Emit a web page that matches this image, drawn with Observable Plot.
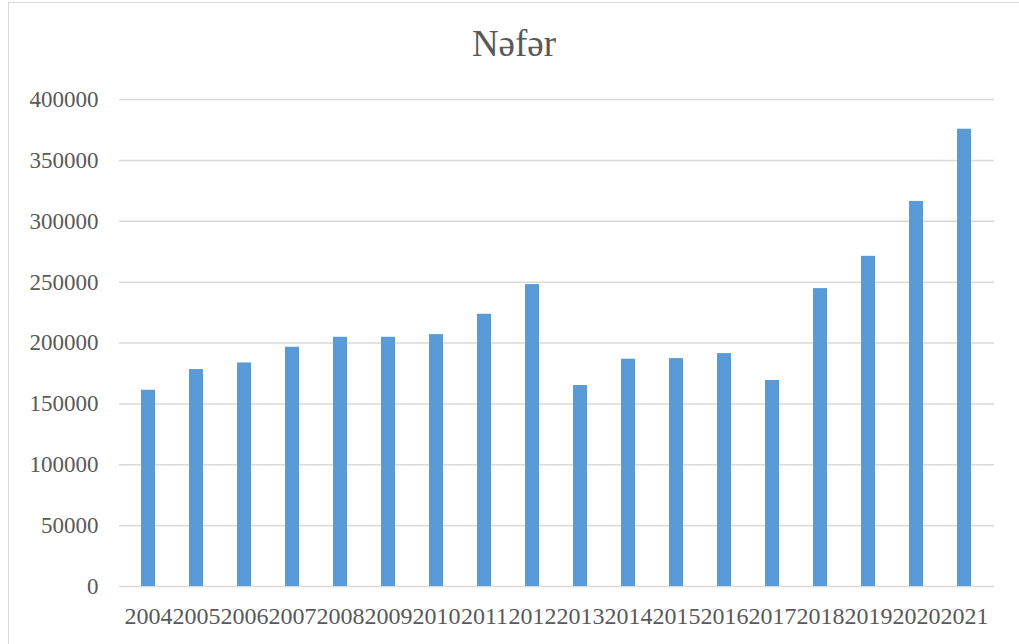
<!DOCTYPE html>
<html>
<head>
<meta charset="utf-8">
<script src="https://cdn.jsdelivr.net/npm/d3@7"></script>
<script src="https://cdn.jsdelivr.net/npm/@observablehq/plot@0.6"></script>
<style>
  html, body { margin: 0; padding: 0; background: #fff; overflow: hidden; width: 1019px; height: 644px; }
  #frame { position: absolute; left: 8px; top: 2px; width: 1100px; height: 700px; border: 1.5px solid #d9d9d9; box-sizing: border-box; }
  #title { position: absolute; left: 0; top: 4px; width: 1028px; height: 80px; text-align: center;
           font-family: "Liberation Serif", "DejaVu Serif", serif; font-size: 37px; color: #595959;
           line-height: 80px; }
  #chart { position: absolute; left: 0; top: 80px; }
</style>
</head>
<body>
<div id="frame"></div>
<div id="title">Nəfər</div>
<div id="chart"></div>
<script>
const years = ["2004","2005","2006","2007","2008","2009","2010","2011","2012","2013","2014","2015","2016","2017","2018","2019","2020","2021"];
const values = [161200,178200,183600,196500,204700,204700,206900,223600,248000,165100,186700,187200,191300,169200,244700,271200,316300,375600];
const yTicks = [0,50000,100000,150000,200000,250000,300000,350000,400000];

const data = years.map((y, i) => ({year: y, value: values[i]}));

const chart = Plot.plot({
  width: 1019,
  height: 564,
  marginLeft: 119,
  marginRight: 25,
  marginTop: 19,
  marginBottom: 58,
  style: {fontFamily: "'Liberation Serif', 'Times New Roman', serif", color: "#595959", background: "transparent"},
  x: {domain: years, paddingInner: 0.7, paddingOuter: 0.35, label: null, tickSize: 0, tickPadding: 19},
  y: {domain: [0, 400000], ticks: yTicks, label: null, tickSize: 0, tickPadding: 21, tickFormat: d => String(d)},
  marks: [
    Plot.ruleY(yTicks, {stroke: "#d9d9d9", strokeWidth: 1.5}),
    Plot.barY(data, {x: "year", y: "value", fill: "#5b9bd5"}),
    Plot.axisX({tickSize: 0, tickPadding: 20, fontSize: 24, fill: "#595959"}),
    Plot.axisY({ticks: yTicks, tickSize: 0, tickPadding: 21, fontSize: 23, fill: "#595959", tickFormat: d => String(d)})
  ]
});
document.getElementById("chart").appendChild(chart);
</script>
</body>
</html>
